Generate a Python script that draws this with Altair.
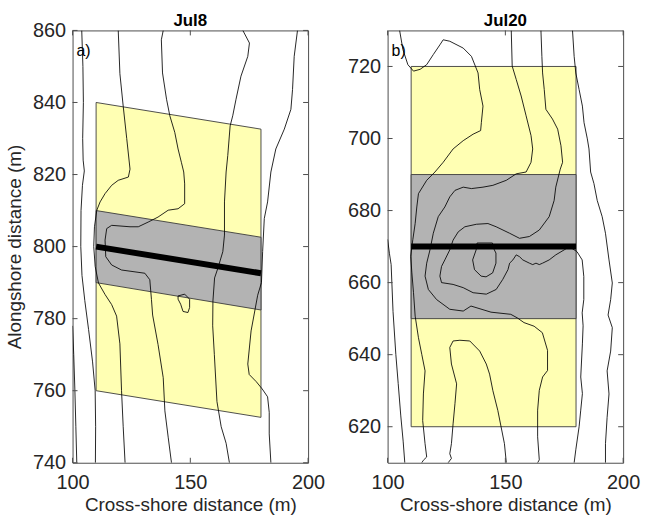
import altair as alt
import pandas as pd

FONT = "Liberation Sans"

# ---------------- Panel a) Jul8 ----------------
a_x_ticks = [100, 150, 200]
a_y_ticks = [740, 760, 780, 800, 820, 840, 860]
a_box_x = [110, 180]
a_yellow_top = [840, 832.6]
a_yellow_bot = [760, 752.6]
a_gray_top = [810, 802.6]
a_gray_bot = [790, 782.4]
a_line_y = [800, 792.6]

aA_x = [103.9, 104.4, 104.6, 104.3, 104.5, 105.0, 104.2, 103.6, 103.5, 104.0, 105.2, 106.8, 108.5, 109.6, 109.8, 109.7]
aA_y = [860, 850, 840, 830, 824, 821, 817, 810, 800, 792, 785, 777, 768, 760, 750, 740]
aB_x = [100.0, 100.5, 101.0, 101.4, 101.8]
aB_y = [778, 770, 760, 750, 740]
aC_x = [119.4, 120.1, 121.5, 123.0, 124.4, 123.7, 119.4, 116.6, 113.8, 111.7, 110.3, 109.3, 109.0, 109.6, 111.0, 113.8, 116.6, 118.7, 120.1, 120.8, 121.5, 122.3]
aC_y = [860, 848, 839, 830, 821.5, 819.3, 818.4, 817, 814.7, 812.4, 810.1, 805.5, 800, 794.5, 789.9, 786.7, 783.9, 780.7, 773, 760, 750, 740]
aD_x = [138.5, 137.7, 138.2, 139.9, 141.3, 143.4, 144.8, 146.2, 147.2, 147.6, 147.6, 144.8, 140.6, 136.3, 132.1, 127.9, 124.4, 116.6, 114.5, 113.8, 114.1, 116.6, 120.8, 130.7, 132.8, 133.5, 134.0, 136.3, 138.5, 139.2, 140.6, 142.0]
aD_y = [860, 857.4, 848.2, 840.9, 836.3, 831.7, 827.1, 823.4, 820.7, 817.4, 811.9, 810.5, 810.1, 808.2, 806.8, 805.5, 805.5, 805.9, 805.0, 801.8, 797.2, 794.9, 793.5, 792.6, 790.8, 785.3, 781.0, 772.8, 763.6, 754.4, 747.1, 740]
aE_x = [172.3, 175.1, 174.4, 171.5, 169.4, 168.0, 166.9, 165.9, 165.2, 164.5, 164.5, 163.8, 161.7, 160.3, 159.6, 159.5, 160.2, 161.3, 163.1, 165.2, 166.6]
aE_y = [860, 856.5, 852.8, 847.3, 840.9, 836.3, 833.5, 825.3, 820.7, 812.4, 803.2, 798.6, 794.0, 791.3, 784.9, 778, 770, 757, 750, 745.4, 740]
aF_x = [195.5, 194.1, 193.4, 192.7, 189.9, 186.3, 184.2, 182.8, 181.4, 180.7, 180.2, 178.6, 175.8, 174.4, 175.0, 178.0, 180.5, 182.8, 183.5, 183.5, 184.2]
aF_y = [860, 852.8, 843.6, 838.1, 832.6, 827.1, 820.7, 812.4, 807.8, 798.6, 790, 786.5, 776.6, 767.4, 764.5, 762.5, 760.5, 758.3, 754, 748, 740]
aG_x = [144.8, 147.6, 149.7, 149.7, 149.0, 146.9, 145.9, 144.8, 144.8]
aG_y = [786.3, 786.8, 785.4, 783.1, 781.7, 782.0, 784.0, 785.4, 786.3]

# ---------------- Panel b) Jul20 ----------------
b_x_ticks = [100, 150, 200]
b_y_ticks = [620, 640, 660, 680, 700, 720]
b_box_x = [110, 180]
b_yellow_top = [720, 720]
b_yellow_bot = [620, 620]
b_gray_top = [690, 690]
b_gray_bot = [650, 650]
b_line_y = [670, 670]

b0_x = [100.0, 100.8, 101.5, 102.3, 103.5, 104.5, 105.6, 106.6, 107.3]
b0_y = [672, 668, 665, 652, 640, 632, 623, 616, 610]
b1_x = [105.1, 106.5, 108.6, 111.0, 113.8, 116.6, 119.4, 122.2, 123.6, 126.4, 132.1, 135.6, 138.4, 139.1, 140.5, 139.8, 139.5, 136.3, 132.1, 127.8, 123.6, 120.1,
        116.6, 113.1, 112.4, 111.7, 110.7, 109.8, 110.3, 111.0, 111.7, 113.1, 114.5, 115.9, 115.2, 114.9, 115.9, 116.6, 115.2, 114.5]
b1_y = [730, 724.7, 720.5, 718.7, 719.2, 720.5, 723.3, 726.0, 727.4, 727.0, 725.1, 722.8, 718.2, 713.6, 709.0, 704.4, 702.2, 701.2, 699.4, 697.1, 693.4, 690.7,
        688.4, 684.7, 681.0, 676.4, 671.9, 667.3, 662.7, 657.2, 650.7, 644.7, 640.1, 635.5, 629.1, 621.7, 615.3, 611.6, 610.7, 610]
b2_x = [152.5, 152.9, 154.6, 156.7, 158.8, 160.9, 161.6, 160.9, 158.8, 154.6, 150.4, 144.7, 140.5, 135.6, 132.1, 128.6, 126.4, 124.3, 121.5, 119.4, 118.0, 116.6,
        115.9, 117.3, 120.8, 126.4, 132.1, 135.4, 143.9, 152.3, 155.1, 157.9, 162.2, 165.7, 167.9, 167.9, 165.8, 164.4, 163.7, 163.7, 164.4, 163.7]
b2_y = [730, 720.1, 716.4, 711.8, 706.3, 700.8, 697.1, 693.4, 690.7, 690.2, 688.4, 687.0, 686.5, 686.1, 686.5, 685.6, 683.8, 681.0, 678.3, 673.7, 669.1, 665.4,
        661.8, 658.1, 655.3, 652.6, 652.1, 653.5, 651.8, 651.2, 650.2, 648.9, 647.9, 646.1, 641.2, 635.6, 633.8, 630.1, 624.6, 617.2, 610.8, 610]
b3_x = [165.1, 165.5, 165.8, 166.5, 167.2, 170.0, 172.2, 173.6, 174.3, 173.3, 171.4, 170.7, 168.6, 164.4, 160.2, 156.0, 151.8, 146.1, 142.6, 137.7, 132.8, 130.0,
        127.8, 126.4, 124.3, 122.9, 122.2, 122.9, 127.8, 132.1, 136.3, 141.9, 146.1, 148.9, 151.1, 151.8, 153.2, 154.6, 156.0, 157.4, 160.2, 161.6, 163.0, 164.4,
        165.8, 168.6, 171.4, 175.0, 177.1, 180.4, 182.6, 183.3, 183.3, 182.6, 183.0, 182.7, 182.0, 182.7, 182.0, 181.3, 179.9, 179.2]
b3_y = [730, 722.8, 718.2, 713.6, 708.1, 705.4, 702.6, 698.0, 693.4, 691.5, 686.5, 682.8, 678.3, 674.6, 672.8, 672.3, 673.7, 675.5, 676.4, 676.2, 675.5, 674.1,
        671.8, 669.1, 666.3, 664.5, 661.8, 660.0, 659.5, 658.6, 657.2, 656.8, 658.1, 660.9, 663.6, 665.4, 666.3, 667.7, 667.2, 666.3, 665.4, 665.0, 665.4, 665.0,
        665.4, 666.3, 667.7, 669.1, 670.0, 668.6, 666.3, 661.7, 655.3, 651.6, 648.0, 643.0, 633.8, 629.2, 624.6, 620.0, 613.6, 610]
b5_x = [178.5, 179.2, 179.9, 181.3, 182.7, 183.4, 184.8, 185.5, 186.2, 187.6, 189.0, 191.1, 192.5, 194.0, 195.4, 194.7, 193.6, 195.4, 194.7, 193.2, 194.0, 193.2, 192.5, 192.5]
b5_y = [730, 722.8, 718.2, 713.6, 709.0, 704.4, 699.9, 697.1, 690.7, 687.5, 682.8, 678.3, 673.7, 666.3, 659.9, 655.3, 651.0, 647.5, 641.0, 635.5, 629.1, 622.6, 615.3, 610]
b7_x = [150.4, 149.6, 148.2, 146.8, 144.7, 143.3, 141.9, 139.1, 134.9, 130.7, 127.8, 126.4, 127.1, 129.3, 128.6, 127.8, 127.1, 126.4, 127.1, 125.7]
b7_y = [610, 615.3, 619.9, 624.5, 630.0, 634.6, 637.4, 641.0, 643.8, 644.0, 643.8, 642.0, 637.4, 631.9, 626.4, 620.8, 615.3, 612.5, 611.2, 610]
b8_x = [138.0, 137.6, 136.1, 136.9, 139.7, 141.8, 144.6, 146.0, 146.0, 145.3, 144.5, 138.0]
b8_y = [671.0, 669.1, 666.3, 663.6, 661.8, 661.6, 662.7, 665.4, 668.2, 669.1, 671.0, 671.0]

W, H = 237, 435
TICK = 5


def lines_df(lines):
    rows = []
    for name, xs, ys in lines:
        for i, (x, y) in enumerate(zip(xs, ys)):
            rows.append({"id": name, "i": i, "x": x, "y": y})
    return pd.DataFrame(rows)


def panel(title, tag, ydom, xticks, yticks, box_x, ytop, ybot, gtop, gbot, liney, lines, ytitle):
    xs = alt.Scale(domain=[100, 200], nice=False, zero=False)
    ys = alt.Scale(domain=ydom, nice=False, zero=False)
    xaxis = alt.Axis(values=xticks, title="Cross-shore distance (m)", labelPadding=10, titlePadding=3,
                     labelFlush=False)
    if ytitle:
        yaxis = alt.Axis(values=yticks, title=ytitle, labelPadding=7, titlePadding=8, labelFlush=False)
    else:
        yaxis = alt.Axis(values=yticks, title="", labelPadding=7, labelFlush=False)

    poly = pd.DataFrame({"x": box_x, "yt": ytop, "yb": ybot, "gt": gtop, "gb": gbot, "ly": liney})
    yellow = alt.Chart(poly).mark_area(color="#ffffb3", stroke="#3a3a3a", strokeWidth=0.9).encode(
        x=alt.X("x:Q", scale=xs, axis=xaxis),
        y=alt.Y("yt:Q", scale=ys, axis=yaxis),
        y2="yb:Q",
    )
    gray = alt.Chart(poly).mark_area(color="#b3b3b3", stroke="#3a3a3a", strokeWidth=0.9).encode(
        x=alt.X("x:Q", scale=xs),
        y=alt.Y("gt:Q", scale=ys),
        y2="gb:Q",
    )
    cont = alt.Chart(lines_df(lines)).mark_line(color="black", strokeWidth=0.85, clip=True).encode(
        x=alt.X("x:Q", scale=xs),
        y=alt.Y("y:Q", scale=ys),
        detail="id:N",
        order="i:Q",
    )
    thick = alt.Chart(poly).mark_line(color="black", strokeWidth=6, strokeCap="butt").encode(
        x=alt.X("x:Q", scale=xs),
        y=alt.Y("ly:Q", scale=ys),
    )
    ydf = pd.DataFrame({"v": yticks})
    xdf = pd.DataFrame({"v": xticks})
    tick_style = dict(color="#4d4d4d", strokeWidth=1)
    yl = alt.Chart(ydf).mark_rule(**tick_style).encode(
        y=alt.Y("v:Q", scale=ys), x=alt.value(0), x2=alt.value(TICK))
    yr = alt.Chart(ydf).mark_rule(**tick_style).encode(
        y=alt.Y("v:Q", scale=ys), x=alt.value(W - TICK), x2=alt.value(W))
    xb = alt.Chart(xdf).mark_rule(**tick_style).encode(
        x=alt.X("v:Q", scale=xs), y=alt.value(H), y2=alt.value(H - TICK))
    xt = alt.Chart(xdf).mark_rule(**tick_style).encode(
        x=alt.X("v:Q", scale=xs), y=alt.value(0), y2=alt.value(TICK))
    lab = alt.Chart(pd.DataFrame({"t": [tag]})).mark_text(
        align="left", baseline="middle", font=FONT, fontSize=16, color="black"
    ).encode(text="t:N", x=alt.value(4), y=alt.value(21))
    ttl = alt.Chart(pd.DataFrame({"t": [title]})).mark_text(
        align="center", baseline="alphabetic", font=FONT, fontSize=17, fontWeight="bold", color="black"
    ).encode(text="t:N", x=alt.value(W / 2), y=alt.value(-4))

    return alt.layer(yellow, gray, cont, thick, yl, yr, xb, xt, lab, ttl).properties(width=W, height=H)


left = panel("Jul8", "a)", [740, 860], a_x_ticks, a_y_ticks, a_box_x,
             a_yellow_top, a_yellow_bot, a_gray_top, a_gray_bot, a_line_y,
             [("A", aA_x, aA_y), ("B", aB_x, aB_y), ("C", aC_x, aC_y), ("D", aD_x, aD_y),
              ("E", aE_x, aE_y), ("F", aF_x, aF_y), ("G", aG_x, aG_y)],
             "Alongshore distance (m)")
right = panel("Jul20", "b)", [610, 730], b_x_ticks, b_y_ticks, b_box_x,
              b_yellow_top, b_yellow_bot, b_gray_top, b_gray_bot, b_line_y,
              [("R0", b0_x, b0_y), ("R1", b1_x, b1_y), ("R2", b2_x, b2_y), ("R3", b3_x, b3_y),
               ("R5", b5_x, b5_y), ("R7", b7_x, b7_y), ("R8", b8_x, b8_y)],
              None)

chart = alt.hconcat(left, right, spacing=80, bounds="flush").properties(
    padding={"left": 5, "top": 10, "right": 5, "bottom": 5},
    background="white",
).configure_view(stroke="#4d4d4d", strokeWidth=1).configure_axis(
    labelFont=FONT, labelFontSize=20, labelColor="#262626",
    titleFont=FONT, titleFontSize=19, titleFontWeight="normal", titleColor="#262626",
    ticks=False, domain=False, grid=False,
)

chart.save("out.html", embed_options={"renderer": "svg", "actions": False})
